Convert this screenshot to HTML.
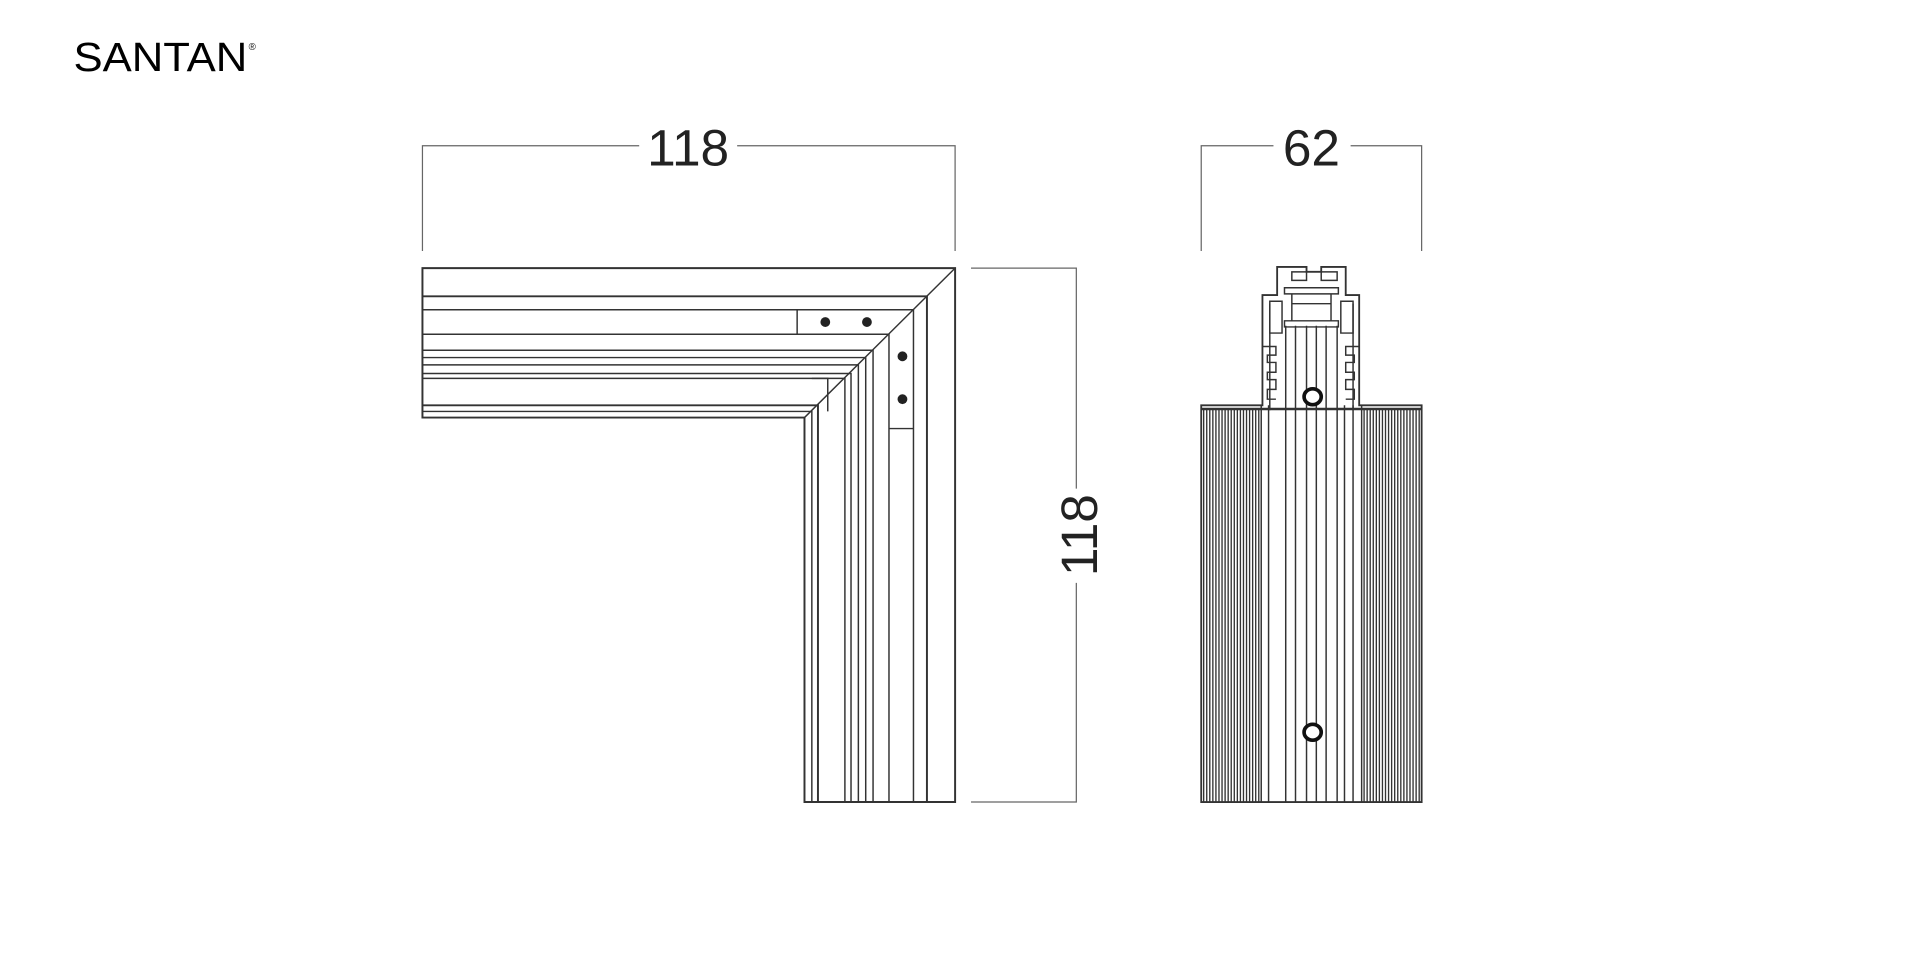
<!DOCTYPE html>
<html><head><meta charset="utf-8"><style>
html,body{margin:0;padding:0;background:#fff;width:1920px;height:960px;overflow:hidden}
svg{display:block}
</style></head><body>
<svg width="1920" height="960" viewBox="0 0 1568 784" xmlns="http://www.w3.org/2000/svg" font-family="Liberation Sans, sans-serif">
<rect width="1568" height="784" fill="#fff"/>
<!-- logo -->
<text x="60" y="58" font-size="33" textLength="142" lengthAdjust="spacingAndGlyphs" fill="#000">SANTAN</text>
<text x="203" y="41" font-size="8" fill="#111">®</text>

<g stroke="#666" stroke-width="1" fill="none">
<path d="M345 205V119H522M602 119H780V205"/>
<path d="M793 219H879V399M879 476V655H793"/>
<path d="M981 205V119H1040M1103 119H1161V205"/>
</g>
<text x="562" y="135" font-size="42" text-anchor="middle" fill="#222">118</text>
<text transform="translate(896,437) rotate(-90)" x="0" y="0" font-size="42" text-anchor="middle" fill="#222">118</text>
<text x="1071" y="135" font-size="42" text-anchor="middle" fill="#222">62</text>

<!-- L shape -->
<g stroke="#333" stroke-width="1.2" fill="none">
<path d="M345 219H780V655H657V341H345Z" stroke-width="1.6"/>
<path d="M345 242H757V655" stroke-width="1.6"/>
<path d="M345 253H746V655"/>
<path d="M345 273H726V655"/>
<path d="M345 286H713V655"/>
<path d="M345 292H707V655"/>
<path d="M345 298H701V655"/>
<path d="M345 305H695V655"/>
<path d="M345 309H690V655"/>
<path d="M345 331H668V655" stroke-width="1.6"/>
<path d="M345 336H663V655"/>
<path d="M780 219L657 341" />
<path d="M651 253V273"/>
<path d="M726 350H746"/>
<path d="M663 309H676V336"/>
</g>
<g fill="#222">
<circle cx="674" cy="263" r="4"/><circle cx="708" cy="263" r="4"/>
<circle cx="737" cy="291" r="4"/><circle cx="737" cy="326" r="4"/>
</g>

<!-- right view hatching -->
<g stroke="#333" stroke-width="1.1">
<path d="M983 334V655M985.5 334V655M988 334V655M990.5 334V655M993 334V655M995.5 334V655M998 334V655M1000.5 334V655M1003 334V655M1005.5 334V655M1008 334V655M1010.5 334V655M1013 334V655M1015.5 334V655M1018 334V655M1020.5 334V655M1023 334V655M1025.5 334V655M1028 334V655"/>
<path d="M1114 334V655M1116.5 334V655M1119 334V655M1121.5 334V655M1124 334V655M1126.5 334V655M1129 334V655M1131.5 334V655M1134 334V655M1136.5 334V655M1139 334V655M1141.5 334V655M1144 334V655M1146.5 334V655M1149 334V655M1151.5 334V655M1154 334V655M1156.5 334V655M1159 334V655"/>
</g>
<g stroke="#333" stroke-width="1.2" fill="none">
<path d="M981 331H1031V241H1043V218H1067V222H1079V218H1099V241H1110V331H1161V655H981Z" stroke-width="1.5"/>
<path d="M981 334H1161" stroke-width="2"/>
<path d="M1030 331V655M1036 331V655M1050 266V655M1058 266V655M1067 266V655M1075 266V655M1083 266V655M1092 266V655M1098 331V655M1105 331V655M1112 331V655"/>
<path d="M1055 222H1067V229H1055ZM1079 222H1092V229H1079Z"/>
<path d="M1049 235H1093V240H1049ZM1055 240V262M1087 240V262M1055 248H1087M1049 262H1093V267H1049Z"/>
<path d="M1037 248V335M1105 248V335"/>
<path d="M1037 246H1047V272H1037ZM1095 246H1105V272H1095Z"/>
<path d="M1031 283H1042V290H1035V296H1042V304H1035V310H1042V318H1035V326H1042M1110 283H1099V290H1106V296H1099V304H1106V310H1099V318H1106V326H1099"/>
</g>
<g fill="#fff" stroke="#111" stroke-width="3">
<ellipse cx="1072" cy="324" rx="7" ry="6.5"/>
<ellipse cx="1072" cy="598" rx="7" ry="6.5"/>
</g>
</svg>
</body></html>
